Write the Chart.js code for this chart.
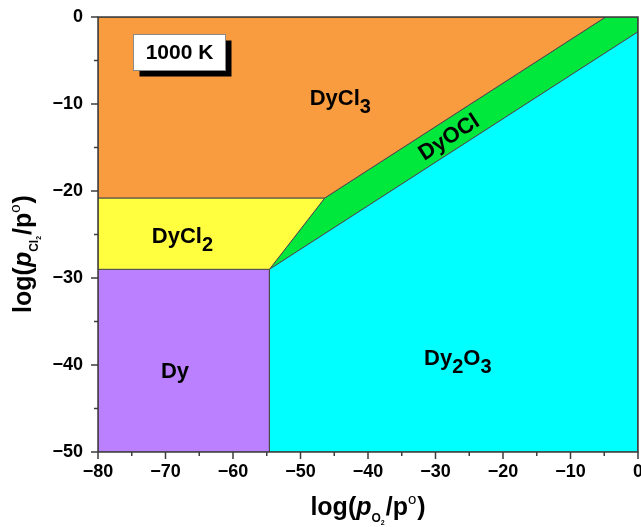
<!DOCTYPE html>
<html>
<head>
<meta charset="utf-8">
<script src="https://cdn.jsdelivr.net/npm/chart.js@4/dist/chart.umd.min.js"></script>
<style>
  html, body { margin: 0; padding: 0; background: #ffffff; }
  canvas { display: block; }
</style>
</head>
<body>
<canvas id="chart" width="641" height="527"></canvas>
<script>
// Predominance diagram of the Dy–O–Cl system at 1000 K
// x: log(pO2/p°), y: log(pCl2/p°)

// Stability fields, polygon vertices (x = log pO2, y = log pCl2)
const dyCl3X = [-80, -4.8, -46.4, -80];
const dyCl3Y = [0, 0, -20.8, -20.8];
const dyCl2X = [-80, -46.4, -54.6, -80];
const dyCl2Y = [-20.8, -20.8, -29.0, -29.0];
const dyX    = [-80, -54.6, -54.6, -80];
const dyY    = [-29.0, -29.0, -50, -50];
const dy2o3X = [-54.6, -54.6, 0, 0];
const dy2o3Y = [-50, -29.0, -1.7, -50];
const dyoclX = [-54.6, -46.4, -4.8, 0, 0];
const dyoclY = [-29.0, -20.8, 0, 0, -1.7];

// Field names and where they are written
const phaseNames  = ['DyCl3', 'DyCl2', 'Dy', 'Dy2O3', 'DyOCl'];
const phaseLabelX = [-44.1, -67.5, -68.6, -26.7, -28.1];
const phaseLabelY = [-9.2, -25.1, -40.6, -39.1, -13.7];
const phaseColors = ['#F99B3F', '#FFFF40', '#BA80FF', '#00FFFF', '#00E83C'];

// Temperature tag
const tempText = '1000 K';
const tempAt = [-68.0, -4.0];

// Axis ranges and ticks
const xMin = -80, xMax = 0, yMin = -50, yMax = 0;
const majorStep = 10, minorStep = 5;

const FONT = '"Liberation Sans", Arial, Helvetica, sans-serif';

function closed(xs, ys) {
  const pts = xs.map((x, i) => ({ x: x, y: ys[i] }));
  pts.push({ x: xs[0], y: ys[0] });
  return pts;
}

const fields = [
  [dyCl3X, dyCl3Y], [dyCl2X, dyCl2Y], [dyX, dyY], [dy2o3X, dy2o3Y], [dyoclX, dyoclY]
];

const datasets = fields.map((f, i) => ({
  label: phaseNames[i],
  data: closed(f[0], f[1]),
  showLine: true,
  fill: 'shape',
  backgroundColor: phaseColors[i],
  borderColor: '#4a4a4a',
  borderWidth: 1,
  pointRadius: 0,
  tension: 0
}));

function fmtTick(v) {
  if (v % majorStep !== 0) return '';
  return v < 0 ? '\u2212' + Math.abs(v) : String(v);
}

// Formula text: digits become subscripts
function formulaRuns(name, size) {
  const runs = [];
  for (const ch of name) {
    if (/[0-9]/.test(ch)) {
      runs.push({ t: ch, font: 'bold ' + Math.round(size * 0.9) + 'px ' + FONT, dy: size * 0.36 });
    } else {
      const last = runs[runs.length - 1];
      if (last && last.dy === 0) last.t += ch;
      else runs.push({ t: ch, font: 'bold ' + size + 'px ' + FONT, dy: 0 });
    }
  }
  return runs;
}

function drawRuns(ctx, runs, cx, baseline) {
  let total = 0;
  runs.forEach(r => { ctx.font = r.font; r.w = ctx.measureText(r.t).width; total += r.w + (r.gap || 0); });
  let x = cx - total / 2;
  ctx.textAlign = 'left';
  ctx.textBaseline = 'alphabetic';
  runs.forEach(r => {
    ctx.font = r.font;
    ctx.fillText(r.t, x, baseline + r.dy);
    x += r.w + (r.gap || 0);
  });
}

function titleRuns(sub, subsub) {
  const big = 'bold 25px ' + FONT;
  const bigIt = 'italic bold 25px ' + FONT;
  return [
    { t: 'log(', font: big, dy: 0 },
    { t: 'p', font: bigIt, dy: 0 },
    { t: sub, font: 'bold 12px ' + FONT, dy: 7 },
    { t: subsub, font: 'bold 7px ' + FONT, dy: 10, gap: 1 },
    { t: '/p', font: big, dy: 0 },
    { t: 'o', font: '15px ' + FONT, dy: -11, gap: 1 },
    { t: ')', font: big, dy: 0 }
  ];
}

const overlay = {
  id: 'overlay',
  afterDraw(chart) {
    const ctx = chart.ctx;
    const xs = chart.scales.x, ys = chart.scales.y;
    const a = chart.chartArea;
    ctx.save();
    ctx.fillStyle = '#000';

    // field names
    phaseNames.forEach((name, i) => {
      const px = xs.getPixelForValue(phaseLabelX[i]);
      const py = ys.getPixelForValue(phaseLabelY[i]);
      const size = 22;
      ctx.save();
      ctx.translate(px, py);
      if (name === 'DyOCl') {
        // align with the DyOCl band (slope 1/2 in log units)
        const dx = xs.getPixelForValue(10) - xs.getPixelForValue(0);
        const dy = ys.getPixelForValue(5) - ys.getPixelForValue(0);
        ctx.rotate(Math.atan2(dy, dx));
      }
      drawRuns(ctx, formulaRuns(name, size), 0, size * 0.36);
      ctx.restore();
    });

    // temperature tag with drop shadow
    const tx = xs.getPixelForValue(tempAt[0]);
    const ty = ys.getPixelForValue(tempAt[1]);
    const bw = 92, bh = 36;
    const bx = Math.round(tx - bw / 2) + 0.5, by = Math.round(ty - bh / 2) + 0.5;
    ctx.fillStyle = '#000';
    ctx.fillRect(bx + 6, by + 6, bw, bh);
    ctx.fillStyle = '#fff';
    ctx.fillRect(bx, by, bw, bh);
    ctx.strokeStyle = '#8a8a8a';
    ctx.lineWidth = 1;
    ctx.strokeRect(bx, by, bw, bh);
    ctx.fillStyle = '#000';
    ctx.font = 'bold 21px ' + FONT;
    ctx.textAlign = 'center';
    ctx.textBaseline = 'middle';
    ctx.fillText(tempText, bx + bw / 2, by + bh / 2 + 1);

    // frame
    ctx.strokeStyle = '#3c3c3c';
    ctx.lineWidth = 1.5;
    ctx.strokeRect(a.left, a.top, a.right - a.left, a.bottom - a.top);

    // major and minor tick marks, pointing outward
    ctx.lineWidth = 1.5;
    ctx.beginPath();
    for (let v = xMin; v <= xMax; v += minorStep) {
      const p = xs.getPixelForValue(v);
      const len = v % majorStep === 0 ? 7 : 4;
      ctx.moveTo(p, a.bottom);
      ctx.lineTo(p, a.bottom + len);
    }
    for (let v = yMin; v <= yMax; v += minorStep) {
      const p = ys.getPixelForValue(v);
      const len = v % majorStep === 0 ? 7 : 4;
      ctx.moveTo(a.left, p);
      ctx.lineTo(a.left - len, p);
    }
    ctx.stroke();

    // axis titles
    ctx.fillStyle = '#000';
    drawRuns(ctx, titleRuns('O', '2'), 368, 515);
    ctx.save();
    ctx.translate(31, 254);
    ctx.rotate(-Math.PI / 2);
    drawRuns(ctx, titleRuns('Cl', '2'), 0, 0);
    ctx.restore();

    ctx.restore();
  }
};

const tickFont = { family: FONT, size: 18, weight: 'bold' };

new Chart(document.getElementById('chart'), {
  type: 'scatter',
  data: { datasets: datasets },
  options: {
    responsive: false,
    animation: false,
    devicePixelRatio: 1,
    layout: { padding: { top: 17, right: 3, left: 0, bottom: 0 } },
    plugins: { legend: { display: false }, tooltip: { enabled: false } },
    scales: {
      x: {
        type: 'linear', min: xMin, max: xMax,
        afterFit(s) { s.height = 75; s.paddingLeft = 0; s.paddingRight = 0; },
        ticks: { stepSize: minorStep, autoSkip: false, maxRotation: 0, callback: fmtTick, font: tickFont, color: '#000', padding: 2 },
        grid: { drawOnChartArea: false, drawTicks: true, tickLength: 7, tickColor: 'rgba(0,0,0,0)' },
        border: { display: false }
      },
      y: {
        type: 'linear', min: yMin, max: yMax,
        afterFit(s) { s.width = 98; s.paddingTop = 0; s.paddingBottom = 0; },
        ticks: { stepSize: minorStep, autoSkip: false, callback: fmtTick, font: tickFont, color: '#000', padding: 8 },
        grid: { drawOnChartArea: false, drawTicks: true, tickLength: 7, tickColor: 'rgba(0,0,0,0)' },
        border: { display: false }
      }
    }
  },
  plugins: [overlay]
});
</script>
</body>
</html>
